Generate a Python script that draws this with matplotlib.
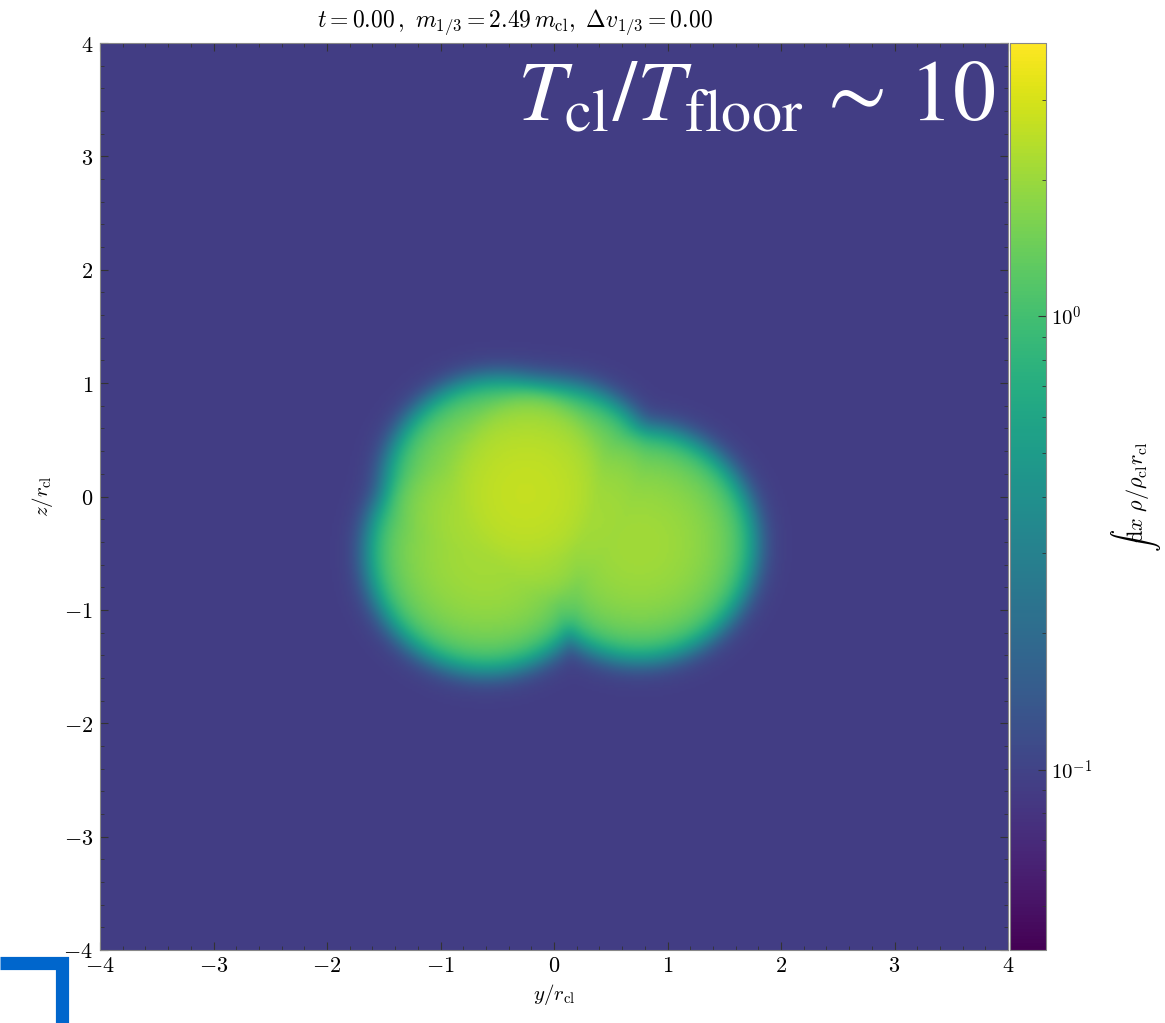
import numpy as np
import matplotlib
matplotlib.use("Agg")
import matplotlib.pyplot as plt
from matplotlib.colors import LogNorm
from matplotlib.ticker import MultipleLocator, FuncFormatter
from matplotlib.lines import Line2D

plt.rcParams['mathtext.fontset'] = 'cm'
plt.rcParams['font.family'] = 'serif'

# Nubes (posicion y, z en el plano, x en profundidad, radio) en unidades de r_cl
nube_y = [-0.50, 0.00, -0.60, 0.75]
nube_z = [0.05, 0.00, -0.50, -0.42]
nube_x = [0.35, -0.35, 0.10, -0.10]
nube_r = [0.97, 0.96, 1.02, 1.00]
col_fondo = 0.092          # columna del medio caliente
vmin, vmax = 0.04, 4.0
ticks_cb = [0.1, 1.0]
etiquetas_cb = [r'$10^{-1}$', r'$10^{0}$']

# Proyeccion de la densidad a lo largo de x
n = 500
y = np.linspace(-4, 4, n)
z = np.linspace(-4, 4, n)
Y, Z = np.meshgrid(y, z)
xs = np.linspace(-2.5, 2.5, 260)
dx = xs[1] - xs[0]
columna = np.zeros_like(Y)
for xi in xs:
    rho = np.zeros_like(Y)
    for yc, zc, xc, rc in zip(nube_y, nube_z, nube_x, nube_r):
        d = np.sqrt((Y - yc)**2 + (Z - zc)**2 + (xi - xc)**2)
        rho = np.maximum(rho, 1.0 / (1.0 + np.exp((d - rc) / 0.055)))
    columna += rho * dx
columna += col_fondo

fig = plt.figure(figsize=(11.65, 10.23), dpi=100)
ax = fig.add_axes([100/1165, 1-950/1023, 908/1165, 907/1023])
cax = fig.add_axes([1010/1165, 1-950/1023, 36/1165, 907/1023])

im = ax.imshow(columna, origin='lower', extent=[-4, 4, -4, 4], cmap='viridis',
               norm=LogNorm(vmin=vmin, vmax=vmax), aspect='auto', interpolation='bilinear')

ax.xaxis.set_major_locator(MultipleLocator(1))
ax.yaxis.set_major_locator(MultipleLocator(1))
ax.xaxis.set_minor_locator(MultipleLocator(0.2))
ax.yaxis.set_minor_locator(MultipleLocator(0.2))
fmt = FuncFormatter(lambda v, p: r'$%d$' % round(v))
ax.xaxis.set_major_formatter(fmt)
ax.yaxis.set_major_formatter(fmt)
ax.tick_params(which='both', direction='in', top=True, right=True, labelsize=16, color='#333333')
ax.tick_params(axis='y', pad=5)
ax.tick_params(which='major', length=6)
ax.tick_params(which='minor', length=3)
for s in ax.spines.values():
    s.set_color('#888888')

ax.set_xlabel(r'$y/r_{\rm cl}$', fontsize=15, labelpad=4)
ax.set_ylabel(r'$z/r_{\rm cl}$', fontsize=15, labelpad=6)

cb = fig.colorbar(im, cax=cax)
cb.set_ticks(ticks_cb)
cb.set_ticklabels(etiquetas_cb)
cax.tick_params(which='both', direction='in', labelsize=15, color='#333333')
cax.tick_params(which='major', length=6)
cax.tick_params(which='minor', length=3)
cb.outline.set_edgecolor('#888888')
cb.set_label(r'$\int\!{\rm d}x\ \rho/\rho_{\rm cl} r_{\rm cl}$', rotation=90, fontsize=16, labelpad=12)

fig.text(515/1165, 1-22/1023,
         r'$t = 0.00\,,\ m_{1/3} = 2.49\,m_{\rm cl},\ \Delta v_{1/3} = 0.00$',
         ha='center', va='center', fontsize=17)

ax.text(0.987, 0.915, r'$T_{\rm cl}/T_{\rm floor}\,\sim\,10$', transform=ax.transAxes,
        ha='right', va='baseline', color='white', fontsize=62, math_fontfamily='stix')

# Marco azul de la esquina
fig.add_artist(Line2D([0, 62/1165, 62/1165], [1-963/1023, 1-963/1023, 0],
                      transform=fig.transFigure, color='#0066cc', lw=9.5,
                      solid_joinstyle='miter', solid_capstyle='butt'))

fig.savefig("out.png", dpi=100)
